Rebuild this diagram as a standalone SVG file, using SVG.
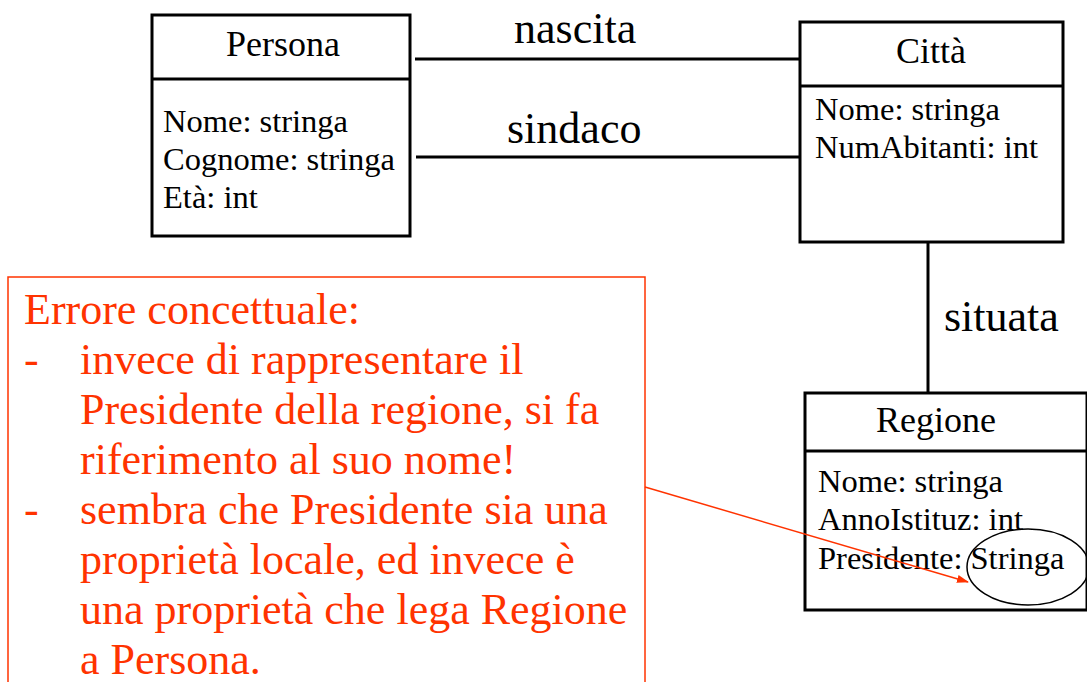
<svg xmlns="http://www.w3.org/2000/svg" width="1087" height="682" viewBox="0 0 1087 682">
<style>
.box{fill:#fff;stroke:#000;stroke-width:3}
.div{stroke:#000;stroke-width:3}
.conn{stroke:#000;stroke-width:3;fill:none}
.hdr{font-family:"Liberation Serif","Times New Roman",serif;font-size:36px;fill:#000;text-anchor:middle}
.att{font-family:"Liberation Serif","Times New Roman",serif;font-size:32.5px;fill:#000}
.lbl{font-family:"Liberation Serif","Times New Roman",serif;font-size:44px;fill:#000}
.note{font-family:"Liberation Serif","Times New Roman",serif;font-size:44px;fill:#FF3300}
</style>
<defs>
<marker id="arr" markerWidth="12" markerHeight="8" refX="11" refY="4" orient="auto" markerUnits="userSpaceOnUse">
<path d="M0,0 L12,4 L0,8 Z" fill="#FF3300"/>
</marker>
</defs>
<rect width="1087" height="682" fill="#fff"/>
<g id="connectors">
<line class="conn" x1="415" y1="59" x2="800" y2="59"/>
<line class="conn" x1="416" y1="157" x2="800" y2="157"/>
<line class="conn" x1="928" y1="242" x2="928" y2="393"/>
<text class="lbl" x="514" y="43">nascita</text>
<text class="lbl" x="507" y="143">sindaco</text>
<text class="lbl" x="944" y="331">situata</text>
</g>
<g id="persona">
<rect class="box" x="152" y="15" width="258" height="221"/>
<line class="div" x1="152" y1="79" x2="410" y2="79"/>
<text class="hdr" x="283" y="56">Persona</text>
<text class="att" x="163" y="132">Nome: stringa</text>
<text class="att" x="163" y="170">Cognome: stringa</text>
<text class="att" x="163" y="208">Età: int</text>
</g>
<g id="citta">
<rect class="box" x="800" y="22" width="263" height="220"/>
<line class="div" x1="800" y1="86" x2="1063" y2="86"/>
<text class="hdr" x="931" y="63">Città</text>
<text class="att" x="815" y="120">Nome: stringa</text>
<text class="att" x="815" y="158">NumAbitanti: int</text>
</g>
<g id="regione">
<rect class="box" x="805" y="393" width="282" height="217"/>
<line class="div" x1="805" y1="451" x2="1087" y2="451"/>
<text class="hdr" x="936" y="432">Regione</text>
<text class="att" x="818" y="492">Nome: stringa</text>
<text class="att" x="818" y="530">AnnoIstituz: int</text>
<text class="att" x="818" y="569">Presidente: Stringa</text>
<ellipse cx="1028" cy="567" rx="61" ry="38" fill="none" stroke="#000" stroke-width="1.5"/>
</g>
<g id="nota">
<rect x="8" y="277" width="637" height="420" fill="none" stroke="#FF3300" stroke-width="1.5"/>
<text class="note" x="24" y="324">Errore concettuale:</text>
<text class="note" x="24" y="374">-</text>
<text class="note" x="80" y="374">invece di rappresentare il</text>
<text class="note" x="80" y="424">Presidente della regione, si fa</text>
<text class="note" x="80" y="474">riferimento al suo nome!</text>
<text class="note" x="24" y="524">-</text>
<text class="note" x="80" y="524">sembra che Presidente sia una</text>
<text class="note" x="80" y="574">proprietà locale, ed invece è</text>
<text class="note" x="80" y="624">una proprietà che lega Regione</text>
<text class="note" x="80" y="674">a Persona.</text>
<line x1="645" y1="487" x2="968" y2="582" stroke="#FF3300" stroke-width="1.5" marker-end="url(#arr)"/>
</g>
</svg>
